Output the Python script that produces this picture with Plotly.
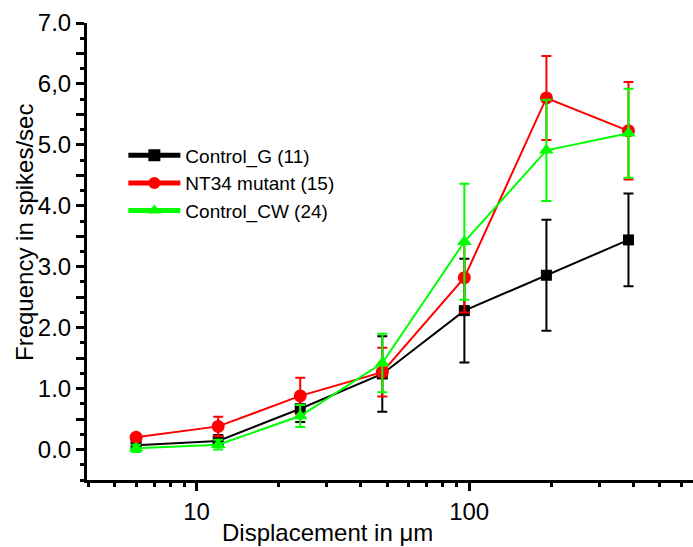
import plotly.graph_objects as go

displacement = [6, 12, 24, 48, 96, 192, 384]

control_g = [0.07, 0.14, 0.67, 1.24, 2.28, 2.86, 3.44]
control_g_err = [0.05, 0.10, 0.22, 0.62, 0.85, 0.91, 0.76]

nt34 = [0.20, 0.38, 0.88, 1.27, 2.82, 5.77, 5.23]
nt34_err = [0.05, 0.16, 0.30, 0.40, 0.57, 0.69, 0.80]

control_cw = [0.02, 0.08, 0.55, 1.42, 3.41, 4.91, 5.19]
control_cw_err = [0.06, 0.08, 0.18, 0.48, 0.95, 0.83, 0.73]

names = ["Control_G (11)", "NT34 mutant (15)", "Control_CW (24)"]
y_ticks = [0, 1, 2, 3, 4, 5, 6, 7]
y_labels = ["0.0", "1.0", "2.0", "3.0", "4.0", "5.0", "6,0", "7.0"]
x_ticks = [10, 100]
x_minor = [4, 5, 6, 7, 8, 9, 20, 30, 40, 50, 60, 70, 80, 90, 200, 300, 400, 500, 600]

FONT = "Liberation Sans, Arial, sans-serif"

fig = go.Figure()

series = [
    (control_g, control_g_err, "black", "square", 11, names[0]),
    (nt34, nt34_err, "#ff0000", "circle", 13, names[1]),
    (control_cw, control_cw_err, "#00ff00", "triangle-up", 13, names[2]),
]
for vals, errs, col, sym, size, name in series:
    fig.add_trace(go.Scatter(
        x=displacement, y=vals, name=name, mode="lines+markers",
        line=dict(color=col, width=2),
        marker=dict(color=col, symbol=sym, size=size, line=dict(width=0)),
        error_y=dict(type="data", array=errs, visible=True, color=col,
                     thickness=2, width=5),
    ))

# tick values at every 0.5, labels on integers
yt_vals = []
yt_text = []
for i, v in enumerate(y_ticks):
    yt_vals.append(v)
    yt_text.append(y_labels[i])
    if i < len(y_ticks) - 1:
        yt_vals.append(v + 0.5)
        yt_text.append("")

fig.update_layout(
    width=693, height=547,
    margin=dict(l=87, r=0, t=23, b=67),
    paper_bgcolor="white", plot_bgcolor="white",
    font=dict(family=FONT, color="black"),
    showlegend=True,
    legend=dict(x=0.06, y=0.752, xanchor="left", yanchor="top",
                bgcolor="rgba(0,0,0,0)", font=dict(size=19, family=FONT),
                tracegroupgap=0, itemsizing="constant", itemwidth=52),
    xaxis=dict(type="log", range=[0.598, 2.821],
               tickvals=x_ticks, ticktext=[str(v) for v in x_ticks],
               ticks="outside", ticklen=8, tickwidth=3, tickcolor="black",
               showline=True, linewidth=3, linecolor="black",
               showgrid=False, zeroline=False,
               tickfont=dict(size=24, family=FONT),
               minor=dict(tickvals=x_minor, ticks="outside", ticklen=4,
                          tickwidth=2.5, tickcolor="black", showgrid=False)),
    yaxis=dict(range=[-0.5, 7.0],
               tickvals=yt_vals, ticktext=yt_text,
               ticks="outside", ticklen=8, tickwidth=3, tickcolor="black",
               showline=True, linewidth=3, linecolor="black",
               showgrid=False, zeroline=False,
               tickfont=dict(size=24, family=FONT),
               minor=dict(dtick=0.25, tick0=0, ticks="outside", ticklen=4,
                          tickwidth=2.5, tickcolor="black", showgrid=False)),
    annotations=[
        dict(text="Displacement in μm", xref="paper", yref="paper",
             x=(327 - 87) / 606, y=-0.08, xanchor="center", yanchor="top",
             showarrow=False, font=dict(size=24, family=FONT)),
        dict(text="Frequency in spikes/sec", xref="paper", yref="paper",
             x=(25 - 87) / 606, y=(480 - 233) / 457, xanchor="center", yanchor="middle",
             textangle=-90, showarrow=False, font=dict(size=24, family=FONT)),
    ],
)

fig.write_html("out.html")
